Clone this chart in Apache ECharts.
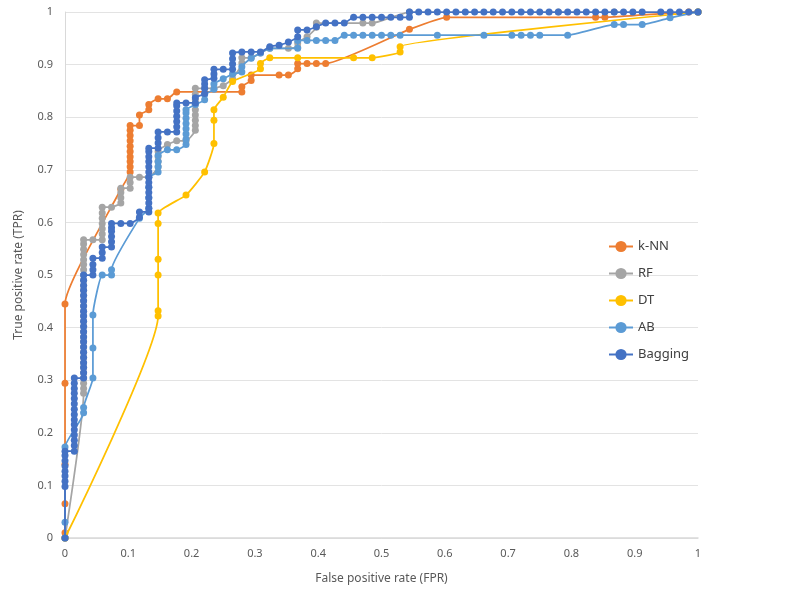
<!DOCTYPE html>
<html>
<head>
<meta charset="utf-8">
<script src="https://cdn.jsdelivr.net/npm/echarts@6/dist/echarts.min.js"></script>
<style>html,body{margin:0;padding:0;background:#fff;}#c{width:800px;height:599px;}</style>
</head>
<body>
<div id="c"></div>
<script>
const seriesNames = ['k-NN', 'RF', 'DT', 'AB', 'Bagging'];
const xTicks = ['0','0.1','0.2','0.3','0.4','0.5','0.6','0.7','0.8','0.9','1'];
const yTicks = ['0','0.1','0.2','0.3','0.4','0.5','0.6','0.7','0.8','0.9','1'];

const knnData = [
  [0,0],[0,0.010],[0,0.065],[0,0.140],[0,0.294],[0,0.445],[0.0882,0.663],
  [0.1029,0.696],[0.1029,0.706],[0.1029,0.716],[0.1029,0.725],[0.1029,0.735],[0.1029,0.745],[0.1029,0.755],[0.1029,0.765],[0.1029,0.775],[0.1029,0.784],
  [0.1176,0.784],[0.1176,0.804],[0.1324,0.814],[0.1324,0.824],[0.1471,0.835],[0.1618,0.835],[0.1765,0.848],
  [0.2794,0.848],[0.2794,0.858],[0.2941,0.870],[0.2941,0.880],[0.3382,0.880],[0.3529,0.880],[0.3676,0.892],[0.3676,0.902],
  [0.3824,0.902],[0.3971,0.902],[0.4118,0.902],[0.5441,0.967],[0.6029,0.990],[0.8382,0.990],[0.8529,0.990],[0.9853,1],[1,1]
];

const rfData = [
  [0,0],[0.0294,0.275],[0.0294,0.284],[0.0294,0.294],[0.0294,0.304],[0.0294,0.314],[0.0294,0.324],[0.0294,0.333],[0.0294,0.343],
  [0.0294,0.353],[0.0294,0.363],[0.0294,0.373],[0.0294,0.382],[0.0294,0.392],[0.0294,0.402],[0.0294,0.412],[0.0294,0.422],
  [0.0294,0.431],[0.0294,0.441],[0.0294,0.451],[0.0294,0.461],[0.0294,0.471],[0.0294,0.480],[0.0294,0.490],[0.0294,0.500],
  [0.0294,0.510],[0.0294,0.520],[0.0294,0.529],[0.0294,0.539],[0.0294,0.549],[0.0294,0.559],[0.0294,0.567],
  [0.0441,0.567],[0.0588,0.567],[0.0588,0.578],[0.0588,0.588],[0.0588,0.598],[0.0588,0.608],[0.0588,0.618],[0.0588,0.629],
  [0.0735,0.629],[0.0882,0.637],[0.0882,0.647],[0.0882,0.657],[0.0882,0.665],[0.1029,0.665],[0.1029,0.676],[0.1029,0.686],
  [0.1176,0.686],[0.1324,0.686],[0.1471,0.706],[0.1471,0.716],[0.1471,0.725],[0.1471,0.735],[0.1618,0.748],[0.1765,0.755],
  [0.1912,0.755],[0.2059,0.775],[0.2059,0.784],[0.2059,0.794],[0.2059,0.804],[0.2059,0.814],[0.2059,0.824],[0.2059,0.833],
  [0.2059,0.843],[0.2059,0.855],[0.2206,0.855],[0.2353,0.855],[0.25,0.860],[0.2647,0.873],[0.2794,0.903],[0.2794,0.913],
  [0.2941,0.913],[0.3088,0.922],[0.3235,0.931],[0.3529,0.931],[0.3676,0.933],[0.3676,0.941],[0.3824,0.953],[0.3971,0.971],
  [0.3971,0.979],[0.4706,0.979],[0.4853,0.979],[0.5441,1],[0.7794,1],[0.8676,1],[1,1]
];

const dtData = [
  [0,0],[0.1471,0.422],[0.1471,0.432],[0.1471,0.500],[0.1471,0.530],[0.1471,0.598],[0.1471,0.618],
  [0.1912,0.652],[0.2206,0.696],[0.2353,0.750],[0.2353,0.794],[0.2353,0.814],[0.25,0.838],[0.2647,0.868],
  [0.3088,0.892],[0.3088,0.902],[0.3235,0.913],[0.3676,0.913],[0.4559,0.913],[0.4853,0.913],[0.5294,0.924],[0.5294,0.934],[1,1]
];

const abData = [
  [0,0],[0,0.030],[0,0.173],[0.0294,0.238],[0.0294,0.248],[0.0441,0.304],[0.0441,0.361],[0.0441,0.424],
  [0.0588,0.500],[0.0735,0.500],[0.0735,0.510],[0.1176,0.608],[0.1324,0.627],[0.1324,0.647],[0.1324,0.667],[0.1324,0.686],
  [0.1471,0.696],[0.1471,0.706],[0.1471,0.716],[0.1471,0.727],[0.1618,0.738],[0.1765,0.738],
  [0.1912,0.748],[0.1912,0.758],[0.1912,0.768],[0.1912,0.778],[0.1912,0.788],[0.1912,0.798],[0.1912,0.808],[0.1912,0.814],
  [0.2059,0.824],[0.2206,0.833],[0.2206,0.843],[0.2353,0.853],[0.2353,0.863],[0.25,0.873],[0.2647,0.882],[0.2794,0.886],
  [0.2794,0.896],[0.2941,0.912],[0.3088,0.922],[0.3235,0.931],[0.3676,0.931],[0.3676,0.946],[0.3824,0.946],[0.3971,0.946],
  [0.4118,0.946],[0.4265,0.946],[0.4412,0.956],[0.4559,0.956],[0.4706,0.956],[0.4853,0.956],[0.5,0.956],[0.5147,0.956],
  [0.5294,0.956],[0.5882,0.956],[0.6618,0.956],[0.7059,0.956],[0.7206,0.956],[0.7353,0.956],[0.75,0.956],[0.7941,0.956],
  [0.8676,0.976],[0.8824,0.976],[0.9118,0.976],[0.9559,0.989],[1,1]
];

const baggingData = [
  [0,0],[0,0.098],[0,0.108],[0,0.118],[0,0.127],[0,0.137],[0,0.147],[0,0.157],[0,0.165],
  [0.0147,0.165],[0.0147,0.176],[0.0147,0.186],[0.0147,0.196],[0.0147,0.206],[0.0147,0.216],[0.0147,0.225],[0.0147,0.235],
  [0.0147,0.245],[0.0147,0.255],[0.0147,0.265],[0.0147,0.275],[0.0147,0.284],[0.0147,0.294],[0.0147,0.304],
  [0.0294,0.304],[0.0294,0.314],[0.0294,0.324],[0.0294,0.333],[0.0294,0.343],[0.0294,0.353],[0.0294,0.363],[0.0294,0.373],
  [0.0294,0.382],[0.0294,0.392],[0.0294,0.402],[0.0294,0.412],[0.0294,0.422],[0.0294,0.431],[0.0294,0.441],[0.0294,0.451],
  [0.0294,0.461],[0.0294,0.471],[0.0294,0.480],[0.0294,0.490],[0.0294,0.500],
  [0.0441,0.500],[0.0441,0.510],[0.0441,0.520],[0.0441,0.532],[0.0588,0.532],[0.0588,0.543],[0.0588,0.553],
  [0.0735,0.553],[0.0735,0.563],[0.0735,0.573],[0.0735,0.583],[0.0735,0.590],[0.0735,0.598],[0.0882,0.598],[0.1029,0.598],
  [0.1176,0.610],[0.1176,0.620],[0.1324,0.620],[0.1324,0.627],[0.1324,0.637],[0.1324,0.647],[0.1324,0.657],[0.1324,0.667],
  [0.1324,0.676],[0.1324,0.686],[0.1324,0.696],[0.1324,0.706],[0.1324,0.716],[0.1324,0.725],[0.1324,0.735],[0.1324,0.741],
  [0.1471,0.741],[0.1471,0.751],[0.1471,0.761],[0.1471,0.772],[0.1618,0.772],[0.1765,0.772],[0.1765,0.782],[0.1765,0.792],
  [0.1765,0.802],[0.1765,0.812],[0.1765,0.822],[0.1765,0.827],[0.1912,0.827],[0.2059,0.827],[0.2059,0.837],
  [0.2206,0.845],[0.2206,0.855],[0.2206,0.863],[0.2206,0.871],[0.2353,0.874],[0.2353,0.882],[0.2353,0.891],[0.25,0.891],
  [0.2647,0.891],[0.2647,0.901],[0.2647,0.911],[0.2647,0.922],[0.2794,0.924],[0.2941,0.924],[0.3088,0.924],[0.3235,0.934],
  [0.3382,0.937],[0.3529,0.943],[0.3676,0.953],[0.3676,0.966],[0.3824,0.966],[0.3971,0.972],[0.4118,0.979],[0.4265,0.979],
  [0.4412,0.979],[0.4559,0.990],[0.4706,0.990],[0.4853,0.990],[0.5,0.990],[0.5147,0.990],[0.5294,0.990],[0.5441,0.990],
  [0.5441,1],[0.5588,1],[0.5735,1],[0.5882,1],[0.6029,1],[0.6176,1],[0.6324,1],[0.6471,1],[0.6618,1],[0.6765,1],[0.6912,1],
  [0.7059,1],[0.7206,1],[0.7353,1],[0.75,1],[0.7647,1],[0.7794,1],[0.7941,1],[0.8088,1],[0.8235,1],[0.8382,1],[0.8529,1],
  [0.8676,1],[0.8824,1],[0.8971,1],[0.9118,1],[0.9412,1],[0.9559,1],[0.9706,1],[0.9853,1],[1,1]
];

const seriesData = [knnData, rfData, dtData, abData, baggingData];
const colors = ['#ED7D31', '#A5A5A5', '#FFC000', '#5B9BD5', '#4472C4'];

const chart = echarts.init(document.getElementById('c'), null, {renderer: 'canvas'});
const font = 'Noto Sans';
chart.setOption({
  animation: false,
  backgroundColor: '#ffffff',
  color: colors,
  grid: {left: 65, right: 102, top: 12, bottom: 61, containLabel: false},
  legend: {
    orient: 'vertical', left: 603, top: 235, itemWidth: 24, itemHeight: 14, itemGap: 14,
    textStyle: {fontFamily: font, fontSize: 13, color: '#404040'},
    data: seriesNames
  },
  xAxis: {
    type: 'value', min: 0, max: 1, interval: 0.1,
    name: 'False positive rate (FPR)', nameLocation: 'middle', nameGap: 35,
    nameTextStyle: {fontFamily: font, fontSize: 12, color: '#595959'},
    axisLine: {show: true, lineStyle: {color: '#D9D9D9', width: 1.5}},
    axisTick: {show: false},
    splitLine: {show: false},
    axisLabel: {fontFamily: font, fontSize: 11, color: '#595959', margin: 10,
      formatter: (v) => xTicks[Math.round(v * 10)]}
  },
  yAxis: {
    type: 'value', min: 0, max: 1, interval: 0.1,
    name: 'True positive rate (TPR)', nameLocation: 'middle', nameGap: 40, nameRotate: 90,
    nameTextStyle: {fontFamily: font, fontSize: 12, color: '#595959'},
    axisLine: {show: true, lineStyle: {color: '#D9D9D9', width: 1}},
    axisTick: {show: false},
    splitLine: {show: true, lineStyle: {color: '#E3E3E3', width: 1}},
    axisLabel: {fontFamily: font, fontSize: 11, color: '#595959', margin: 12,
      formatter: (v) => yTicks[Math.round(v * 10)]}
  },
  series: seriesNames.map((n, i) => ({
    name: n, type: 'line', data: seriesData[i],
    smooth: 0.15,
    symbol: 'circle', symbolSize: 7, showSymbol: true,
    lineStyle: {width: 1.75, color: colors[i]},
    itemStyle: {color: colors[i]},
    z: 2 + i
  }))
});
</script>
</body>
</html>
